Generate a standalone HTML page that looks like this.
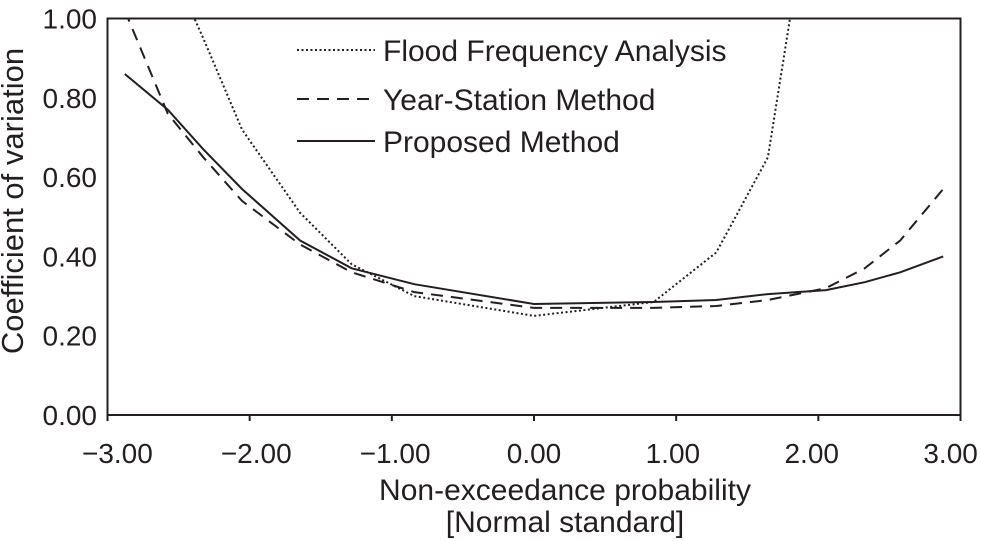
<!DOCTYPE html>
<html><head><meta charset="utf-8"><style>
html,body{margin:0;padding:0;background:#fff;}
svg{display:block;font-family:"Liberation Sans",Arial,sans-serif;fill:#231f20;}
</style></head><body>
<svg id="chart" width="981" height="541" viewBox="0 0 981 541">
<defs><clipPath id="clip"><rect x="107.5" y="18.5" width="853" height="396.5"/></clipPath></defs>
<g id="axes"></g>
<g id="series" clip-path="url(#clip)"></g>
<g id="legend">
 <line x1="297" y1="50" x2="375" y2="50" stroke="#231f20" stroke-width="2" stroke-dasharray="2,2.5"/>
 <text x="383" y="61" font-size="30">Flood Frequency Analysis</text>
 <line x1="297" y1="99" x2="375" y2="99" stroke="#231f20" stroke-width="2" stroke-dasharray="12,8"/>
 <text x="383" y="110" font-size="30">Year-Station Method</text>
 <line x1="297" y1="141" x2="375" y2="141" stroke="#231f20" stroke-width="2"/>
 <text x="383" y="152" font-size="30">Proposed Method</text>
</g>
<text x="565" y="500" font-size="30" text-anchor="middle">Non-exceedance probability</text>
<text x="565" y="532" font-size="30" text-anchor="middle">[Normal standard]</text>
<text transform="translate(23,201) rotate(-90)" font-size="31" text-anchor="middle">Coefficient of variation</text>
</svg>
<script>
const xValues = [-2.878,-2.576,-2.326,-2.054,-1.645,-1.282,-0.842,0,0.842,1.282,1.645,2.054,2.326,2.576,2.878];
const ffaValues = [1.5,1.15,0.95,0.72,0.51,0.38,0.30,0.25,0.285,0.41,0.65,1.57,null,null,null];
const ysmValues = [1.02,0.76,0.65,0.54,0.43,0.36,0.31,0.27,0.27,0.275,0.29,0.32,0.37,0.44,0.57];
const proposedValues = [0.86,0.77,0.67,0.57,0.44,0.37,0.33,0.28,0.285,0.29,0.305,0.315,0.335,0.36,0.40];
const xTicks = [-3,-2,-1,0,1,2,3];
const xTickLabels = ["\u22123.00","\u22122.00","\u22121.00","0.00","1.00","2.00","3.00"];
const yTicks = [0,0.2,0.4,0.6,0.8,1.0];
const yTickLabels = ["0.00","0.20","0.40","0.60","0.80","1.00"];

const X0=107.5,X1=960.5,Y0=415,Y1=18.5;
function sx(v){return X0+(v+3)/6*(X1-X0);}
function sy(v){return Y0-v*(Y0-Y1);}
const NS="http://www.w3.org/2000/svg";
const axes=document.getElementById('axes'), series=document.getElementById('series');
function mk(tag,attrs,parent){const e=document.createElementNS(NS,tag);for(const k in attrs)e.setAttribute(k,attrs[k]);parent.appendChild(e);return e;}

const frame=mk('rect',{x:X0,y:Y1,width:X1-X0,height:Y0-Y1,fill:'none',stroke:'#231f20','stroke-width':2},axes);


xTicks.forEach((t,i)=>{
  const l=mk('line',{x1:sx(t),x2:sx(t),y1:Y0,y2:Y0+6,stroke:'#231f20','stroke-width':2},axes);
  
  
  const tx=mk('text',{x:sx(t)-t*3.3,y:463,'font-size':28,'text-anchor':'middle'},axes);
  tx.textContent=xTickLabels[i];
  
  
});
yTicks.forEach((t,i)=>{
  const tx=mk('text',{x:97,y:sy(t)+10,'font-size':28,'text-anchor':'end'},axes);
  tx.textContent=yTickLabels[i];
  
  
});
function drawLine(vals,dash,name){
  const pts=[];
  vals.forEach((v,i)=>{if(v!==null)pts.push(sx(xValues[i]).toFixed(1)+','+sy(v).toFixed(1));});
  const p=mk('polyline',{points:pts.join(' '),fill:'none',stroke:'#231f20','stroke-width':2,'stroke-dasharray':dash},series);
  
  
}
drawLine(ffaValues,'2,2.5','ffa-line');
drawLine(ysmValues,'12,8','year-station-line');
drawLine(proposedValues,'none','proposed-line');
</script>
</body></html>
